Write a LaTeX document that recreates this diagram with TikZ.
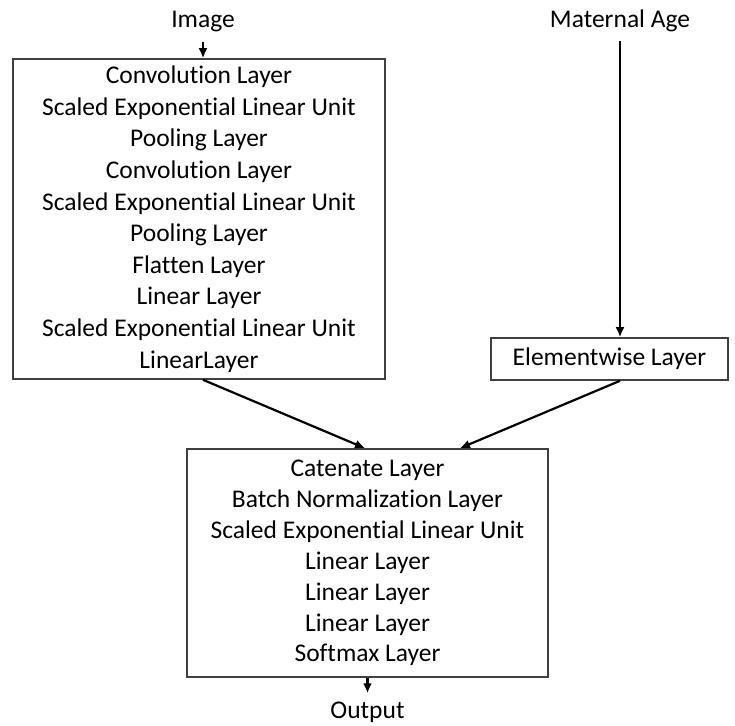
\documentclass[tikz,border=0pt]{standalone}
\usepackage{fontspec}
\setmainfont{Carlito}[RawFeature={-liga;-clig;-calt;-dlig}]
\usetikzlibrary{arrows.meta}
\definecolor{boxgray}{HTML}{404040}
\begin{document}
\begin{tikzpicture}[x=1pt,y=-1pt,
  txt/.style={font=\fontsize{25.5}{31.6}\selectfont},
  box/.style={txt, draw=boxgray, line width=1.6pt, align=center, inner sep=0pt},
  lbl/.style={txt, inner sep=0pt},
  arr/.style={line width=2.2pt, -{Latex[length=10pt,width=9pt]}}]
\useasboundingbox (0,0) rectangle (735,725);
\node[lbl, anchor=base] (img) at (203,28) {Image};
\node[lbl, anchor=base] (ma) at (620,28) {Maternal Age};
\node[box, minimum width=372pt, minimum height=320pt] (lb) at (199,219)
  {Convolution Layer\\Scaled Exponential Linear Unit\\Pooling Layer\\Convolution Layer\\Scaled Exponential Linear Unit\\Pooling Layer\\Flatten Layer\\Linear Layer\\Scaled Exponential Linear Unit\\LinearLayer};
\node[box, minimum width=237pt, minimum height=42pt] (ew) at (609.5,359) {Elementwise Layer};
\node[box, minimum width=361pt, minimum height=228pt, font=\fontsize{25.5}{30.9}\selectfont] (bb) at (367.5,563)
  {Catenate Layer\\Batch Normalization Layer\\Scaled Exponential Linear Unit\\Linear Layer\\Linear Layer\\Linear Layer\\Softmax Layer};
\node[lbl, anchor=base] (out) at (367.5,718) {Output};
\draw[arr, shorten <=9pt] (img.south) -- (lb.north -| img.south);
\draw[arr, shorten <=8pt] (ma.south) -- (ew.north -| ma.south);
\draw[arr] (lb.south -| img.south) -- ([xshift=-2.5pt]bb.north);
\draw[arr] (ew.south -| ma.south) -- ([xshift=92.5pt]bb.north);
\draw[arr, shorten >=8pt] (bb.south) -- (out.north);
\end{tikzpicture}
\end{document}
